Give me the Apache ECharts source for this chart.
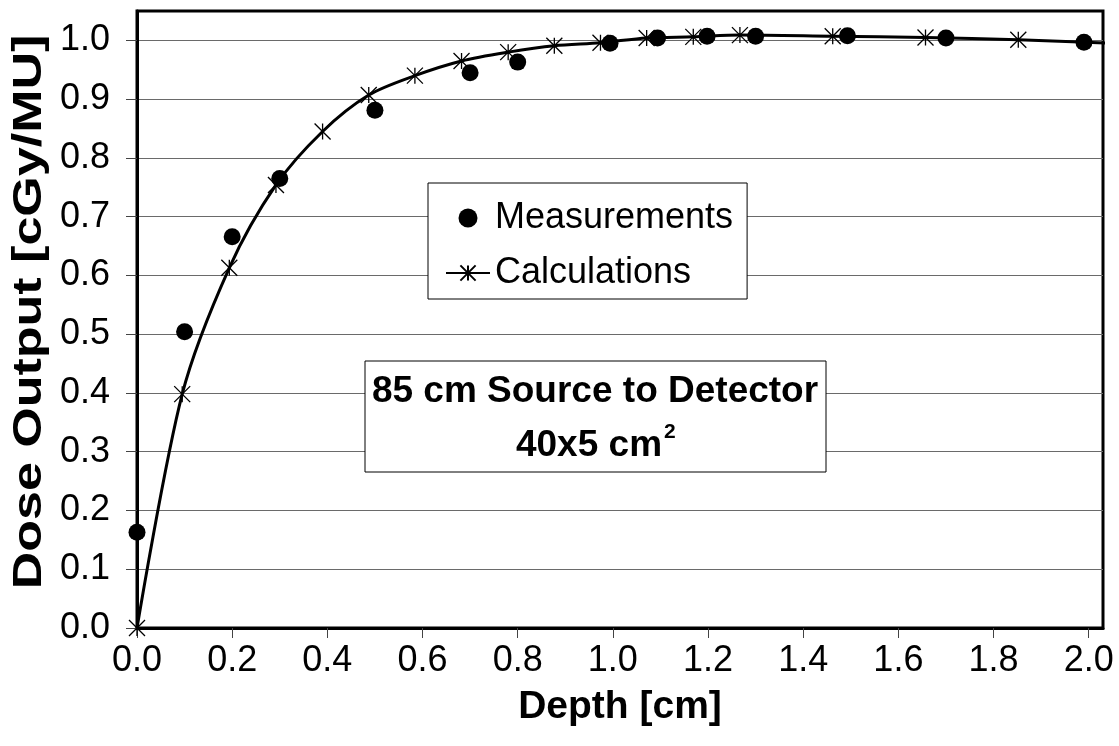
<!DOCTYPE html>
<html><head><meta charset="utf-8">
<script src="https://cdn.jsdelivr.net/npm/echarts@6/dist/echarts.min.js"></script>
<style>html,body{margin:0;padding:0;background:#fff}#c{width:1119px;height:746px}</style>
</head><body><div id="c"></div>
<script>
// Measured dose output vs depth
const measDepth = [0.0, 0.1, 0.2, 0.3, 0.5, 0.7, 0.8, 0.994, 1.094, 1.198, 1.3, 1.493, 1.70, 1.99];
const measDose  = [0.163, 0.504, 0.666, 0.765, 0.881, 0.945, 0.963, 0.995, 1.004, 1.007, 1.007, 1.008, 1.004, 0.997];
// Calculated dose output vs depth (last point lies just past the axis end)
const calcDepth = [0.0, 0.095, 0.194, 0.292, 0.39, 0.487, 0.584, 0.682, 0.78, 0.877, 0.974, 1.071, 1.169, 1.267, 1.462, 1.657, 1.852, 2.05];
const calcDose  = [0.0, 0.398, 0.613, 0.754, 0.845, 0.907, 0.940, 0.965, 0.980, 0.991, 0.996, 1.004, 1.006, 1.009, 1.007, 1.005, 1.001, 0.995];
const xTicks = [0.0, 0.2, 0.4, 0.6, 0.8, 1.0, 1.2, 1.4, 1.6, 1.8, 2.0];
const yTicks = [0.0, 0.1, 0.2, 0.3, 0.4, 0.5, 0.6, 0.7, 0.8, 0.9, 1.0];
const seriesNames = ['Measurements', 'Calculations'];
const xTitle = 'Depth [cm]';
const yTitle = 'Dose Output [cGy/MU]';
const noteLine1 = '85 cm Source to Detector';
const noteLine2 = '40x5 cm';
const noteSup = '2';

const FONT = '"Liberation Sans", Arial, sans-serif';
const STAR = 'path://M5,0L5,10M0,0L10,10M0,10L10,0';

const chart = echarts.init(document.getElementById('c'), null, {renderer: 'canvas'});
const fmt = v => Number(v).toFixed(1);

chart.setOption({
  animation: false,
  backgroundColor: '#fff',
  grid: {left: 137, top: 11, right: 16, bottom: 118, show: true, borderColor: '#000', borderWidth: 3, backgroundColor: 'transparent'},
  xAxis: {
    type: 'value', min: 0, max: 2.03, interval: 0.2,
    axisLine: {show: true, lineStyle: {color: '#000', width: 3}},
    axisTick: {show: true, inside: false, length: 10, lineStyle: {color: '#444', width: 1}, customValues: xTicks},
    axisLabel: {customValues: xTicks, formatter: fmt, fontSize: 36, fontFamily: FONT, color: '#000', margin: 15},
    splitLine: {show: false},
    name: xTitle, nameLocation: 'middle', nameGap: 60,
    nameTextStyle: {fontSize: 39, fontWeight: 'bold', fontFamily: FONT, color: '#000'}
  },
  yAxis: {
    type: 'value', min: 0, max: 1.05, interval: 0.1,
    axisLine: {show: true, lineStyle: {color: '#000', width: 3}},
    axisTick: {show: true, inside: false, length: 11, lineStyle: {color: '#444', width: 1}, customValues: yTicks},
    axisLabel: {customValues: yTicks, formatter: fmt, fontSize: 36, fontFamily: FONT, color: '#000', margin: 27},
    splitLine: {show: true, lineStyle: {color: '#6a6a6a', width: 1}}
  },
  legend: {
    orient: 'vertical', left: 428, top: 183,
    padding: [17, 14, 8, 17], itemGap: 19, itemWidth: 44, itemHeight: 19,
    backgroundColor: '#fff', borderColor: '#000', borderWidth: 1, borderRadius: 0,
    textStyle: {fontSize: 36, fontFamily: FONT, color: '#000'},
    data: seriesNames
  },
  series: [
    {
      name: seriesNames[1], type: 'line', z: 2,
      data: calcDepth.map((d, i) => i === calcDepth.length - 1 ? {value: [d, calcDose[i]], symbol: 'none'} : [d, calcDose[i]]),
      smooth: 0.3, clip: false,
      symbol: STAR, symbolSize: 16,
      lineStyle: {color: '#000', width: 3},
      itemStyle: {color: '#000', borderColor: '#000', borderWidth: 1.3, opacity: 1},
      emphasis: {disabled: true}
    },
    {
      name: seriesNames[0], type: 'scatter', z: 3,
      data: measDepth.map((d, i) => [d, measDose[i]]),
      symbol: 'circle', symbolSize: 17,
      itemStyle: {color: '#000', opacity: 1},
      emphasis: {disabled: true}
    }
  ],
  graphic: [
    {type: 'text', x: 30, y: 312, rotation: Math.PI / 2, scaleX: 1.3,
     style: {text: yTitle, font: 'bold 40px ' + FONT, fill: '#000', align: 'center', verticalAlign: 'middle'}},
    {type: 'rect', shape: {x: 365, y: 361, width: 461, height: 111}, z: 10,
     style: {fill: '#fff', stroke: '#000', lineWidth: 1}},
    {type: 'text', x: 595, y: 392, z: 11,
     style: {text: noteLine1, font: 'bold 37px ' + FONT, fill: '#000', align: 'center', verticalAlign: 'middle'}},
    {type: 'text', x: 589, y: 446, z: 11,
     style: {text: noteLine2, font: 'bold 37px ' + FONT, fill: '#000', align: 'center', verticalAlign: 'middle'}},
    {type: 'text', x: 664, y: 422, z: 11,
     style: {text: noteSup, font: 'bold 21px ' + FONT, fill: '#000', align: 'left', verticalAlign: 'top'}}
  ]
});
</script></body></html>
